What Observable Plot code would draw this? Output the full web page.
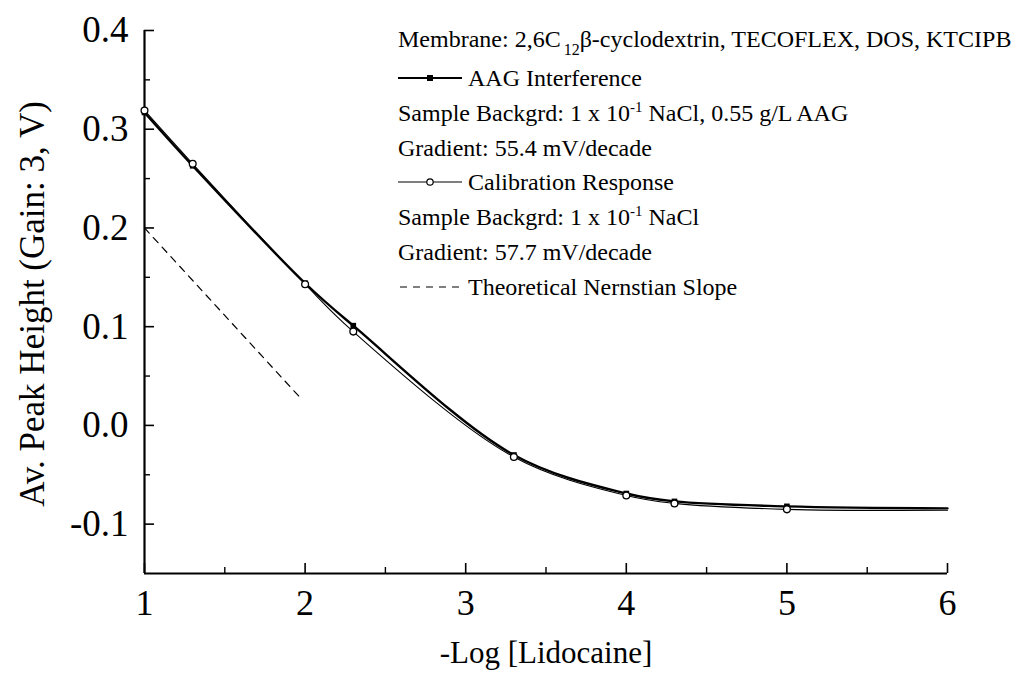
<!DOCTYPE html>
<html><head><meta charset="utf-8">
<script src="https://cdn.jsdelivr.net/npm/d3@7"></script>
<script src="https://cdn.jsdelivr.net/npm/@observablehq/plot@0.6"></script>
<style>
body{margin:0;background:#fff}
#chart{width:1023px;height:686px}
</style>
</head><body><div id="chart"></div>
<script>
// -Log[Lidocaine] values
const logConc = [1, 1.3, 2, 2.3, 3.3, 4, 4.3, 5, 6];
// AAG Interference (filled squares)
const aagPeak = [0.317, 0.263, 0.144, 0.101, -0.030, -0.069, -0.077, -0.082, -0.084];
// Calibration Response (open circles)
const calPeak = [0.319, 0.265, 0.143, 0.095, -0.032, -0.071, -0.079, -0.085, -0.086];
// Theoretical Nernstian slope
const nernstX = [1, 1.97];
const nernstY = [0.2, 0.028];
// ticks
const xTicks = [1, 2, 3, 4, 5, 6];
const xMinor = [1.5, 2.5, 3.5, 4.5, 5.5];
const yTicks = [-0.1, 0, 0.1, 0.2, 0.3, 0.4];
const yMinor = [-0.05, 0.05, 0.15, 0.25, 0.35];
const xTitle = "-Log [Lidocaine]";
const yTitle = "Av. Peak Height (Gain: 3, V)";
// legend rows: symbol + text parts [text, kind]
const legendSymbols = [null, "aag", null, null, "cal", null, null, "dash"];
const legendTexts = [
  [["Membrane: 2,6C", ""], ["12", "sub"], ["β-cyclodextrin, TECOFLEX, DOS, KTCIPB", "back"]],
  [["AAG Interference", ""]],
  [["Sample Backgrd: 1 x 10", ""], ["-1", "sup"], [" NaCl, 0.55 g/L AAG", "back"]],
  [["Gradient: 55.4 mV/decade", ""]],
  [["Calibration Response", ""]],
  [["Sample Backgrd: 1 x 10", ""], ["-1", "sup"], [" NaCl", "back"]],
  [["Gradient: 57.7 mV/decade", ""]],
  [["Theoretical Nernstian Slope", ""]]
];

const aag = logConc.map((x, i) => ({x, y: aagPeak[i]}));
const cal = logConc.map((x, i) => ({x, y: calPeak[i]}));
const nernst = nernstX.map((x, i) => ({x, y: nernstY[i]}));
const FONT = "Liberation Serif, Times New Roman, serif";
const fmt = d => (Math.abs(d) < 1e-9 ? 0 : d).toFixed(1);

const chart = Plot.plot({
  width: 1023, height: 686,
  marginLeft: 144, marginRight: 76, marginTop: 30, marginBottom: 113,
  style: {fontFamily: FONT, background: "#fff", color: "#000"},
  x: {domain: [1, 6]},
  y: {domain: [-0.15, 0.4]},
  marks: [
    Plot.axisX(xTicks, {tickSize: -10, tickPadding: 26, tickFormat: d => String(d), fontSize: 36, strokeWidth: 1.6, label: null}),
    Plot.axisX(xMinor, {tickSize: -6, tickFormat: null, text: null, strokeWidth: 1.4, label: null}),
    Plot.axisY(yTicks, {tickSize: -10, tickPadding: 26, tickFormat: fmt, fontSize: 37, strokeWidth: 1.6, label: null}),
    Plot.axisY(yMinor, {tickSize: -6, tickFormat: null, text: null, strokeWidth: 1.4, label: null}),
    Plot.ruleY([-0.15], {x1: 1, x2: 6, strokeWidth: 2.2}),
    Plot.ruleX([1], {y1: -0.15, y2: 0.4, strokeWidth: 2.2}),
    Plot.line(nernst, {x: "x", y: "y", stroke: "#000", strokeWidth: 1.2, strokeDasharray: "7,6"}),
    Plot.line(cal, {x: "x", y: "y", curve: "catmull-rom", stroke: "#000", strokeWidth: 1.1}),
    Plot.line(aag, {x: "x", y: "y", curve: "catmull-rom", stroke: "#000", strokeWidth: 2.4}),
    Plot.dot(aag.filter(d => d.x < 6), {x: "x", y: "y", symbol: "square", r: 3.2, fill: "#000"}),
    Plot.dot(cal.filter(d => d.x < 6), {x: "x", y: "y", symbol: "circle", r: 3.4, fill: "#fff", stroke: "#000", strokeWidth: 1.3}),
    Plot.text([xTitle], {frameAnchor: "bottom", dy: 80, fontSize: 31, lineAnchor: "middle", textAnchor: "middle"}),
    Plot.text([yTitle], {frameAnchor: "left", dx: -112, dy: 2, rotate: -90, fontSize: 35, lineAnchor: "middle", textAnchor: "middle"})
  ]
});
document.getElementById("chart").appendChild(chart);

// legend overlay (inside the plot area)
const svg = d3.select(chart);
const lg = svg.append("g").attr("font-family", FONT).attr("font-size", 24).attr("fill", "#000").attr("text-anchor", "start");
const rowY = [47, 86, 121, 156, 190, 225, 260, 295];
const symX0 = 398, symX1 = 462, textSymX = 468;
legendTexts.forEach((parts, i) => {
  const sym = legendSymbols[i];
  const y = rowY[i];
  if (sym === "aag") {
    lg.append("line").attr("x1", symX0).attr("x2", symX1).attr("y1", y - 8).attr("y2", y - 8).attr("stroke", "#000").attr("stroke-width", 2);
    lg.append("rect").attr("x", (symX0 + symX1) / 2 - 3).attr("y", y - 11).attr("width", 6).attr("height", 6).attr("fill", "#000");
  } else if (sym === "cal") {
    lg.append("line").attr("x1", symX0).attr("x2", symX1).attr("y1", y - 8).attr("y2", y - 8).attr("stroke", "#000").attr("stroke-width", 1);
    lg.append("circle").attr("cx", (symX0 + symX1) / 2).attr("cy", y - 8).attr("r", 3.2).attr("fill", "#fff").attr("stroke", "#000").attr("stroke-width", 1.2);
  } else if (sym === "dash") {
    lg.append("line").attr("x1", symX0 + 2).attr("x2", symX1).attr("y1", y - 8).attr("y2", y - 8).attr("stroke", "#000").attr("stroke-width", 1.2).attr("stroke-dasharray", "7,6");
  }
  const t = lg.append("text").attr("x", sym ? textSymX : symX0).attr("y", y);
  parts.forEach(([s, kind]) => {
    const ts = t.append("tspan").text(s);
    if (kind === "sub") ts.attr("font-size", 16).attr("dx", 3).attr("dy", 8);
    else if (kind === "sup") ts.attr("font-size", 15).attr("dy", -9);
    else if (kind === "back") ts.attr("dy", parts.some(p => p[1] === "sub") ? -8 : 9);
  });
});
</script>
</body></html>
